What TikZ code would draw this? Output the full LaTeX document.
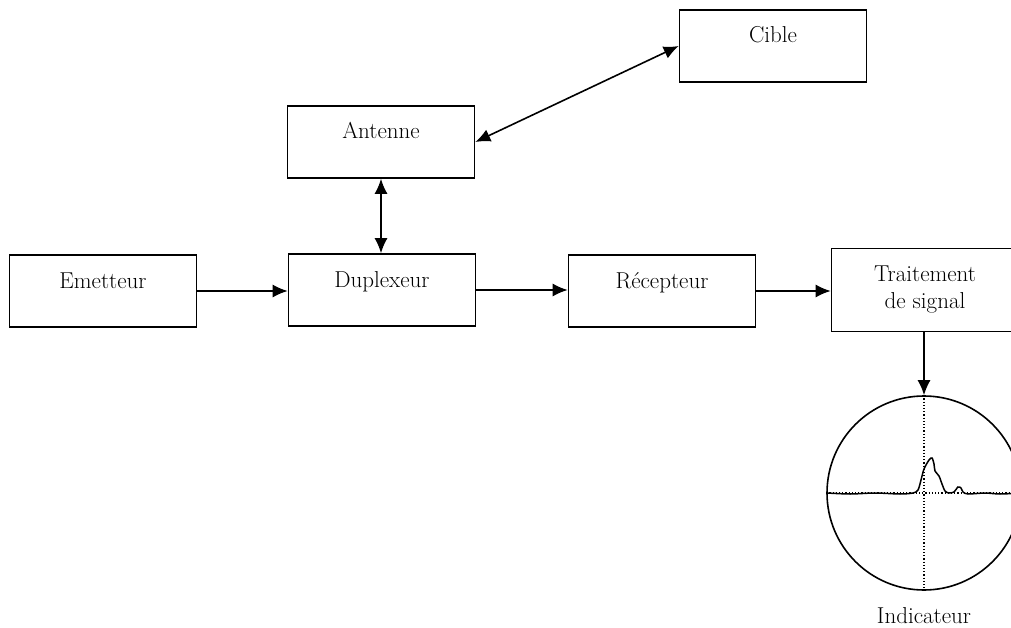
\documentclass[tikz,border=0pt]{standalone}
\usepackage{fontspec}
\usetikzlibrary{arrows.meta}
\begin{document}
\begin{tikzpicture}[x=1pt,y=-1pt,line width=1.6pt,>={Latex[length=15pt,width=13pt]},
	bloc/.style={draw,rectangle,inner sep=0pt,minimum width=187pt,font=\fontsize{23}{27}\selectfont},
	ligne/.style={bloc,text height=33pt,text depth=39pt}]
	\useasboundingbox (0,0) rectangle (1011,628);
	
	\node (emetteur) [ligne] at (103,291) {Emetteur};
	\node (duplexeur) [ligne] at (382,290) {Duplexeur};
	\node (recepteur) [ligne] at (662,291) {Récepteur};
	\node (traitement) [bloc,minimum height=83pt,align=center] at (925,290) {Traitement\\de signal};
	\node (antenne) [ligne] at (381,142) {Antenne};
	\node (cible) [ligne] at (773,46) {Cible};
	
	\draw [->] (emetteur.east) -- (emetteur.east -| duplexeur.west);
	\draw [->] (duplexeur.east) -- (duplexeur.east -| recepteur.west);
	\draw [->] (recepteur.east) -- (recepteur.east -| traitement.west);
	\draw [<->] (antenne.south) -- (antenne.south |- duplexeur.north);
	\draw [<->] (antenne.east) -- (cible.west);
	
	% ecran de l'indicateur
	\node (ecran) [draw,circle,minimum size=194pt,inner sep=0pt] at (924,493) {};
	\draw [->] (ecran.north |- traitement.south) -- (ecran.north);
	\draw [dotted,line width=1.2pt] (ecran.north) -- (ecran.south);
	\draw [dotted,line width=1.2pt] (ecran.west) -- (ecran.east);
	\draw [line width=1.5pt] plot [smooth,tension=0.5] coordinates {
		(827,493) (850,494) (875,493) (900,494) (913,493) (918,490)
		(921,480) (924,469) (929,460) (932,458) (934,464) (935,471)
		(939,476) (942,484) (945,491) (949,493) (954,492) (958,487)
		(961,488) (963,492) (968,494) (985,493) (1000,494) (1021,493)};
	\node (indicateur) [anchor=base,font=\fontsize{23}{27}\selectfont] at (924,623) {Indicateur};
	
\end{tikzpicture}
\end{document}
